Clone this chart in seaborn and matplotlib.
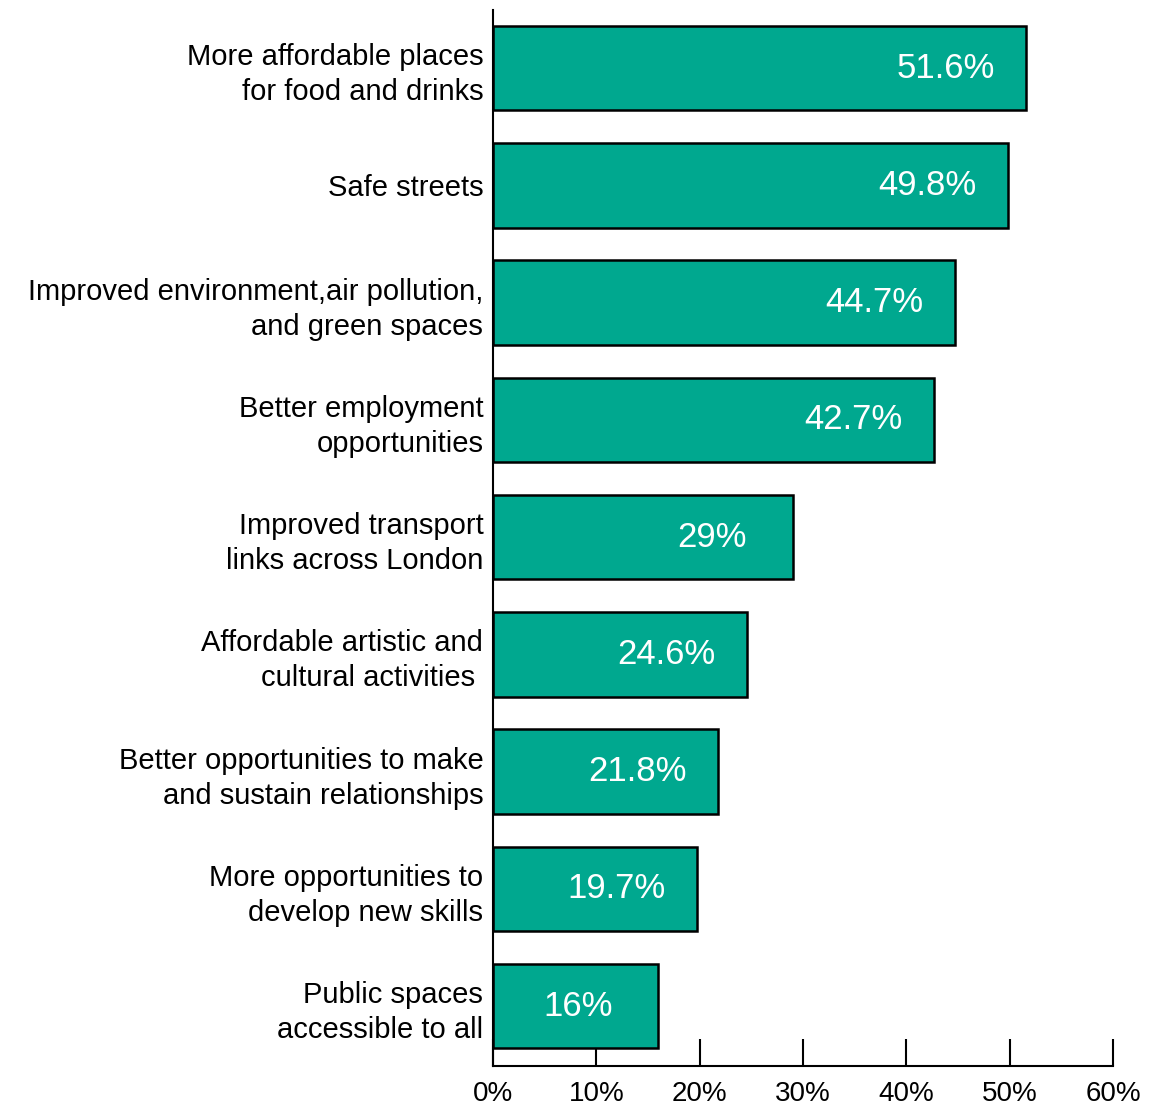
import matplotlib
matplotlib.use("Agg")
import matplotlib.pyplot as plt
import seaborn as sns
import pandas as pd

categories = [
    "More affordable places\nfor food and drinks",
    "Safe streets",
    "Improved environment,air pollution,\nand green spaces",
    "Better employment\nopportunities",
    "Improved transport\nlinks across London",
    "Affordable artistic and\ncultural activities ",
    "Better opportunities to make\nand sustain relationships",
    "More opportunities to\ndevelop new skills",
    "Public spaces\naccessible to all",
]
values = [51.6, 49.8, 44.7, 42.7, 29, 24.6, 21.8, 19.7, 16]
value_labels = ["51.6%", "49.8%", "44.7%", "42.7%", "29%", "24.6%", "21.8%", "19.7%", "16%"]
x_ticks = [0, 10, 20, 30, 40, 50, 60]
x_tick_labels = ["0%", "10%", "20%", "30%", "40%", "50%", "60%"]

df = pd.DataFrame({"category": categories, "value": values})

sns.set_style("ticks")
plt.rcParams["font.family"] = ["Liberation Sans", "DejaVu Sans"]
plt.rcParams["text.color"] = "black"
plt.rcParams["xtick.color"] = "black"
plt.rcParams["ytick.color"] = "black"
plt.rcParams["axes.edgecolor"] = "black"

fig = plt.figure(figsize=(11.73, 11.08), dpi=100)
ax = fig.add_axes([0.4203, 0.0379, 0.9488 - 0.4203, 0.991 - 0.0379])

sns.barplot(data=df, x="value", y="category", orient="h", color="#00A88F",
            saturation=1, edgecolor="black", linewidth=1.8, width=0.72, ax=ax)

for i, (v, lab) in enumerate(zip(values, value_labels)):
    ax.annotate(lab, xy=(v, i), xytext=(-58, 0), textcoords="offset points",
                ha="center", va="center", color="white", fontsize=25)

ax.set_xlim(0, 60)
ax.set_ylim(len(categories) - 0.49, -0.495)
ax.set_xticks(x_ticks)
ax.set_xticklabels(x_tick_labels)
ax.set_xlabel("")
ax.set_ylabel("")

ax.tick_params(axis="x", direction="in", length=19.5, width=1.5, labelsize=20,
               pad=11, colors="black")
ax.tick_params(axis="y", length=0, labelsize=21, pad=7, colors="black")
for lbl in ax.get_yticklabels():
    lbl.set_horizontalalignment("right")
    lbl.set_linespacing(1.32)
    lbl.set_color("black")

sns.despine(ax=ax, top=True, right=True)
for side in ("left", "bottom"):
    ax.spines[side].set_linewidth(1.5)
    ax.spines[side].set_color("black")
ax.set_axisbelow(True)

fig.savefig("out.png", dpi=100)
